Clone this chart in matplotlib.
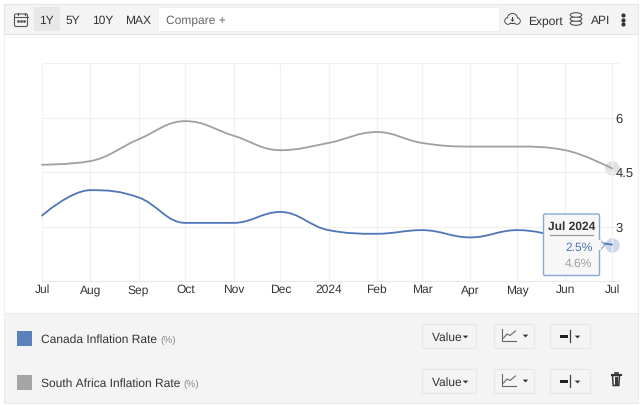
#!/usr/bin/env python3
# Canada vs South Africa inflation, chart with its toolbar and series panel

import datetime as dt
import numpy as np
import matplotlib
matplotlib.use('Agg')
import matplotlib.pyplot as plt
import matplotlib.dates as mdates
from matplotlib.path import Path
from matplotlib.patches import PathPatch, Rectangle, FancyBboxPatch, Circle, Polygon, Ellipse

plt.rcParams['font.family'] = ['Liberation Sans', 'DejaVu Sans']
plt.rcParams['text.hinting'] = 'none'
plt.rcParams['text.hinting_factor'] = 1

# Data
months = [(2023, 7), (2023, 8), (2023, 9), (2023, 10), (2023, 11), (2023, 12), (2024, 1),
          (2024, 2), (2024, 3), (2024, 4), (2024, 5), (2024, 6), (2024, 7)]
month_labels = ['Jul', 'Aug', 'Sep', 'Oct', 'Nov', 'Dec', '2024', 'Feb', 'Mar', 'Apr', 'May', 'Jun', 'Jul']
canada = [3.3, 4.0, 3.8, 3.1, 3.1, 3.4, 2.9, 2.8, 2.9, 2.7, 2.9, 2.7, 2.5]
south_africa = [4.7, 4.8, 5.4, 5.9, 5.5, 5.1, 5.3, 5.6, 5.3, 5.2, 5.2, 5.1, 4.6]
y_ticks = [3, 4.5, 6]
y_tick_labels = ['3', '4.5', '6']
series_names = ['Canada Inflation Rate', 'South Africa Inflation Rate']
range_buttons = ['1Y', '5Y', '10Y', 'MAX']
tooltip_title = 'Jul 2024'
tooltip_values = ['2.5%', '4.6%']

BLUE = '#4f76b8'
GREY = '#a0a0a0'
TXT = '#333333'
PANEL = '#f4f4f4'
LINE = '#e8e8e8'


def px(n):
    # font size in pixels to points
    return n*72/100


def spline_path(x, y):
    # same idea as a web chart spline: control points from the neighbours
    x = np.asarray(x, dtype=float)
    y = np.asarray(y, dtype=float)
    verts = [(x[0], y[0])]
    codes = [Path.MOVETO]
    n = len(x)
    left = np.zeros((n, 2))
    right = np.zeros((n, 2))
    left[0] = x[0], y[0]
    right[0] = x[0], y[0]
    left[-1] = x[-1], y[-1]
    right[-1] = x[-1], y[-1]
    for i in range(1, n-1):
        lx = (1.5*x[i] + x[i-1])/2.5
        ly = (1.5*y[i] + y[i-1])/2.5
        rx = (1.5*x[i] + x[i+1])/2.5
        ry = (1.5*y[i] + y[i+1])/2.5
        corr = (ry - ly)*(rx - x[i])/(rx - lx) + y[i] - ry
        ly += corr
        ry += corr
        # keep the controls between the neighbouring values
        if ly > max(y[i-1], y[i]):
            ly = max(y[i-1], y[i])
            ry = 2*y[i] - ly
        elif ly < min(y[i-1], y[i]):
            ly = min(y[i-1], y[i])
            ry = 2*y[i] - ly
        if ry > max(y[i+1], y[i]):
            ry = max(y[i+1], y[i])
            ly = 2*y[i] - ry
        elif ry < min(y[i+1], y[i]):
            ry = min(y[i+1], y[i])
            ly = 2*y[i] - ry
        left[i] = lx, ly
        right[i] = rx, ry
    for i in range(1, n):
        verts += [tuple(right[i-1]), tuple(left[i]), (x[i], y[i])]
        codes += [Path.CURVE4]*3
    return Path(verts, codes)


fig = plt.figure(figsize=(6.4, 4.06), dpi=100, facecolor='white')

# pixel axes behind the chart
bg = fig.add_axes([0, 0, 1, 1], zorder=0)
bg.set_xlim(0, 640)
bg.set_ylim(406, 0)
bg.axis('off')

# chart
ax = fig.add_axes([42/640, 1 - 282/406, (619 - 42)/640, (282 - 64)/406], zorder=1)
ax.patch.set_alpha(0)
dates = [mdates.date2num(dt.date(a, b, 1)) for a, b in months]
ax.set_xlim(dates[0], dates[0] + (dates[-1] - dates[0])*577/570)
ax.set_ylim(1.5, 7.5)
for s in ax.spines.values():
    s.set_visible(False)
ax.spines['bottom'].set_visible(True)
ax.spines['bottom'].set_color(LINE)
ax.set_xticks(dates)
ax.set_xticklabels(month_labels, fontsize=px(12), color=TXT, va='baseline')
ax.yaxis.tick_right()
ax.set_yticks(y_ticks)
ax.set_yticklabels(y_tick_labels, fontsize=px(12.5), color=TXT)
ax.tick_params(axis='x', length=0, pad=8)
ax.tick_params(axis='y', length=0, pad=-2.6)
ax.set_yticks([7.5], minor=True)
ax.tick_params(axis='y', which='minor', length=0)
ax.grid(True, which='both', color='#f1f1f1', lw=0.9)
ax.set_axisbelow(True)
for vals, c in ((south_africa, GREY), (canada, BLUE)):
    ax.add_patch(PathPatch(spline_path(dates, vals), fc='none', ec=c, lw=1.3, capstyle='round', clip_on=False))
ax.scatter(dates[-1], south_africa[-1], s=110, color='#dcdcdc', alpha=0.85, lw=0, clip_on=False, zorder=0.4)
ax.scatter(dates[-1], canada[-1], s=110, color='#c4d3ea', alpha=0.85, lw=0, clip_on=False, zorder=0.4)

# pixel axes above the chart, for the tooltip
top = fig.add_axes([0, 0, 1, 1], zorder=3)
top.set_xlim(0, 640)
top.set_ylim(406, 0)
top.axis('off')
top.add_patch(Polygon([(599, 240), (605, 246), (599, 252)], fc='#f7f7f7', ec='#8aa8d6', lw=0.9))
top.add_patch(FancyBboxPatch((543.5, 215), 56, 61.5, boxstyle='round,pad=0,rounding_size=1.5',
                             fc='#f7f7f7', ec='#8aa8d6', lw=1.0))
top.add_patch(Rectangle((597.5, 241), 3, 10, fc='#f7f7f7', ec='none'))
top.text(571.5, 227, tooltip_title, fontsize=px(11.8), fontweight='bold', color='#333333', ha='center', va='center')
top.plot([550, 592.5], [235.5, 235.5], color='#999999', lw=0.9)
top.text(592.5, 247.5, tooltip_values[0], fontsize=px(12), color=BLUE, ha='right', va='center')
top.text(592.5, 263.5, tooltip_values[1], fontsize=px(12), color=GREY, ha='right', va='center')

# toolbar
bg.add_patch(Rectangle((4, 4.5), 634, 30, fc=PANEL, ec='#e6e6e6', lw=0.8))
bg.add_patch(Rectangle((33.5, 8), 26.5, 24, fc='#e8e8e8', ec='none'))
bg.add_patch(Rectangle((158, 8), 341, 24, fc='white', ec='#ececec', lw=0.6))
for label, xc in zip(range_buttons, [46.5, 72.5, 103, 138]):
    bg.text(xc, 21, label, fontsize=px(12.2), color=TXT, ha='center', va='center')
bg.text(166, 20.5, 'Compare +', fontsize=px(12), color='#666666', ha='left', va='center')
bg.text(528, 21, 'Export', fontsize=px(11.8), color=TXT, ha='left', va='center')
bg.text(590.5, 21, 'API', fontsize=px(11.8), color=TXT, ha='left', va='center')

# sides of the chart area
bg.plot([4, 4], [34.5, 314], color='#f0f0f0', lw=0.8)
bg.plot([638, 638], [34.5, 314], color='#f0f0f0', lw=0.8)

# calendar icon
bg.add_patch(FancyBboxPatch((14.5, 15), 13, 12.5, boxstyle='round,pad=0,rounding_size=1.5', fc='none', ec='#555555', lw=0.8))
bg.plot([14.5, 27.5], [17.5, 17.5], color='#555555', lw=0.8)
bg.plot([17.5, 17.5], [13.5, 15.5], color='#555555', lw=0.8)
bg.plot([24.5, 24.5], [13.5, 15.5], color='#555555', lw=0.8)
bg.plot([18, 21, 24], [21.5, 21.5, 21.5], ls='none', marker='s', ms=0.9, color='#555555')

# cloud icon
for xy, r in (((508, 22), 3.2), ((512.5, 19.5), 5), ((517, 22), 3.2)):
    bg.add_patch(Circle(xy, r, fc='none', ec='#444444', lw=0.8))
for xy, r in (((508, 22), 2.7), ((512.5, 19.5), 4.5), ((517, 22), 2.7)):
    bg.add_patch(Circle(xy, r, fc=PANEL, ec='none'))
bg.add_patch(Polygon([(510.5, 20.5), (514.5, 20.5), (512.5, 23)], fc='#444444', ec='none'))
bg.add_patch(Rectangle((511.7, 18), 1.6, 3, fc='#444444', ec='none'))

# database icon
for yy in (24, 20, 16):
    bg.add_patch(Ellipse((576, yy), 11.5, 4.5, fc=PANEL, ec='#555555', lw=0.8))

# dots menu
bg.plot([623, 623, 623], [16, 20.5, 25], ls='none', marker='o', ms=2.0, color='#333333')

# series panel
bg.add_patch(Rectangle((4, 314), 634, 90, fc=PANEL, ec='#ebebeb', lw=0.8))
swatch_y = [332, 376]
for name, c, sy in zip(series_names, ['#5b81bd', '#a5a5a5'], swatch_y):
    bg.add_patch(Rectangle((17, sy), 15, 15, fc=c, ec='none'))
    t = bg.text(41, sy + 11.3, name, fontsize=px(11.7), color=TXT, ha='left', va='baseline')
    bb = t.get_window_extent(fig.canvas.get_renderer())
    bg.text(bb.x1 + 3.5, sy + 11.3, '(%)', fontsize=px(10.5), color='#888888', ha='left', va='baseline')


def caret(x, y):
    bg.add_patch(Polygon([(x - 2.8, y - 1.4), (x + 2.8, y - 1.4), (x, y + 1.4)], fc='#333333', ec='none'))


for y0 in (325, 370):
    for x0, w in ((422, 54), (494, 40), (550, 40)):
        bg.add_patch(Rectangle((x0, y0), w, 24, fc=PANEL, ec='#e8e8e8', lw=0.9))
    bg.text(432, y0 + 13, 'Value', fontsize=px(11.8), color=TXT, ha='left', va='center')
    caret(465.5, y0 + 13)
    # line type icon
    bg.plot([501.5, 501.5, 516], [y0 + 5, y0 + 17, y0 + 17], color='#666666', lw=0.8)
    bg.plot([503.5, 507, 510, 515.5], [y0 + 14, y0 + 10, y0 + 11.5, y0 + 7], color='#666666', lw=0.8)
    caret(525.5, y0 + 12)
    # axis side icon
    bg.add_patch(Rectangle((560, y0 + 10.5), 8, 3, fc='#222222', ec='none'))
    bg.plot([569.5, 569.5], [y0 + 6, y0 + 18], color='#444444', lw=0.9)
    caret(577.5, y0 + 13)

# trash icon
bg.add_patch(Polygon([(612.5, 376.5), (619.5, 376.5), (618.8, 386.5), (613.2, 386.5)], fc='white', ec='#333333', lw=1.1))
bg.plot([611.5, 620.5], [375.5, 375.5], color='#333333', lw=1.5)
bg.plot([614.5, 617.5], [374, 374], color='#333333', lw=1.2)
for xx in (614.7, 616, 617.3):
    bg.plot([xx, xx], [378, 385], color='#333333', lw=0.7)

fig.savefig('out.png', dpi=100)
